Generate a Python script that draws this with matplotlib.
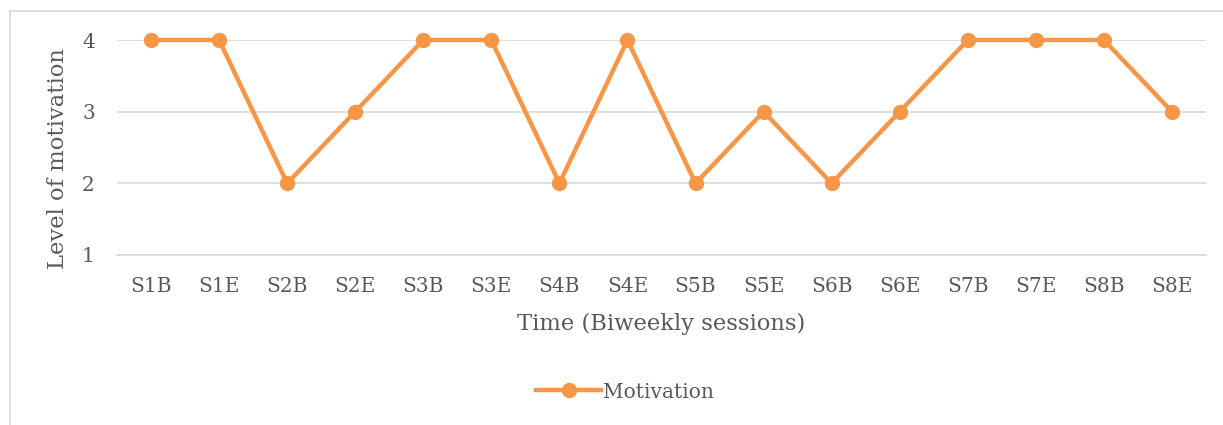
import matplotlib.pyplot as plt
from matplotlib.lines import Line2D

sessions = ['S1B', 'S1E', 'S2B', 'S2E', 'S3B', 'S3E', 'S4B', 'S4E',
            'S5B', 'S5E', 'S6B', 'S6E', 'S7B', 'S7E', 'S8B', 'S8E']
motivation = [4, 4, 2, 3, 4, 4, 2, 4, 2, 3, 2, 3, 4, 4, 4, 3]

orange = '#F79646'
txt = '#595959'
grid = '#D9D9D9'

plt.rcParams['font.family'] = ['DejaVu Serif']

fig = plt.figure(figsize=(12.23, 4.25), dpi=100)
ax = fig.add_axes([117 / 1223, 1 - 255 / 425, (1206 - 117) / 1223, (255 - 40) / 425])

x = list(range(len(sessions)))
ax.plot(x, motivation, color=orange, lw=3.2, marker='o', ms=10,
        solid_capstyle='round', zorder=3, clip_on=False, label='Motivation')

ax.set_xlim(-0.5, len(sessions) - 0.5)
ax.set_ylim(1, 4)
ax.set_yticks([1, 2, 3, 4])
ax.set_xticks(x)
ax.set_xticklabels(sessions)
ax.yaxis.grid(True, color=grid, lw=1.2)
ax.set_axisbelow(True)
for s in ['top', 'right', 'left']:
    ax.spines[s].set_visible(False)
ax.spines['bottom'].set_color(grid)
ax.spines['bottom'].set_linewidth(1.2)
ax.tick_params(length=0, labelsize=14.5, labelcolor=txt)
ax.tick_params(axis='x', pad=16)
ax.tick_params(axis='y', pad=16)

ax.set_xlabel('Time (Biweekly sessions)', fontsize=16.3, color=txt, labelpad=12)
ax.set_ylabel('Level of motivation', fontsize=16.3, color=txt, labelpad=9)
ax.yaxis.label.set_y(0.45)

handle = Line2D([], [], color=orange, lw=3.2, marker='o', ms=10)
fig.legend([handle], ['Motivation'], loc='center', bbox_to_anchor=(625 / 1223, 1 - 392 / 425),
           frameon=False, fontsize=14.5, labelcolor=txt, handlelength=3.2, handletextpad=0.1)

# chart frame (partially cropped)
fig.add_artist(Line2D([10 / 1223, 10 / 1223], [0, 1 - 11 / 425], color=grid, lw=1.2))
fig.add_artist(Line2D([10 / 1223, 1], [1 - 11 / 425, 1 - 11 / 425], color=grid, lw=1.2))

fig.savefig('out.png', dpi=100)
